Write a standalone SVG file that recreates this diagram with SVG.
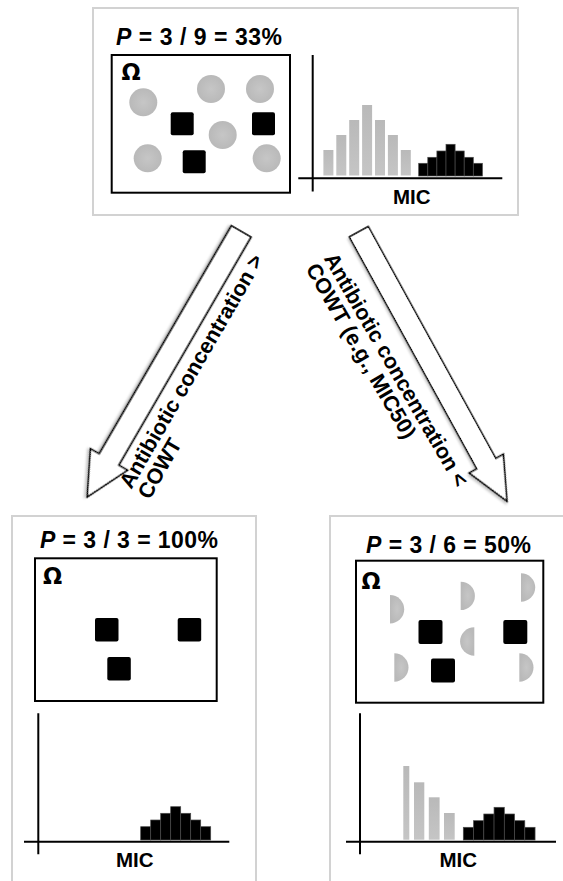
<svg xmlns="http://www.w3.org/2000/svg" width="563" height="881" viewBox="0 0 563 881">
  <style>
    text { font-family: "Liberation Sans", Arial, Helvetica, sans-serif; font-weight: bold; fill: #000; }
    .title { font-size: 23px; }
    .omega { font-family: "DejaVu Sans", "Liberation Sans", sans-serif; font-size: 22.5px; }
    .mic { font-size: 20.5px; text-anchor: middle; }
    .label { font-size: 21.5px; }
    .frame { fill: none; stroke: #d2d2d2; stroke-width: 2; }
    .box { fill: #fff; stroke: #000; stroke-width: 2; }
    .axis { stroke: #000; stroke-width: 2; fill: none; }
    .sq { fill: #000; }
    .blk { fill: #000; stroke: #4a4a4a; stroke-width: 0.7; }
    .gbar { fill: url(#barGrad); }
    .cell { fill: url(#cellGrad); }
    .arrow { fill: #fff; stroke: #000; stroke-width: 1.6; stroke-linejoin: miter; filter: url(#shadow); }
  </style>
  <defs>
    <radialGradient id="cellGrad" cx="0.5" cy="0.5" r="0.5">
      <stop offset="0" stop-color="#c6c6c6"/>
      <stop offset="1" stop-color="#b9b9b9"/>
    </radialGradient>
    <linearGradient id="barGrad" x1="0" y1="0" x2="0" y2="1">
      <stop offset="0" stop-color="#b9b9b9"/>
      <stop offset="1" stop-color="#c5c5c5"/>
    </linearGradient>
    <filter id="shadow" x="-20%" y="-20%" width="140%" height="140%">
      <feDropShadow dx="1.5" dy="2" stdDeviation="1.2" flood-color="#000" flood-opacity="0.22"/>
    </filter>
  </defs>
  <rect width="563" height="881" fill="#fff"/>

  <!-- Starting population -->
  <g id="panel-top">
    <rect class="frame" x="93" y="8" width="425" height="207"/>
    <text class="title" x="116" y="45" textLength="166" lengthAdjust="spacing"><tspan font-style="italic">P</tspan> = 3 / 9 = 33%</text>
    <rect class="box" x="111.7" y="55" width="178.3" height="137.7"/>
    <text class="omega" x="121.5" y="79.5">Ω</text>
    <circle class="cell" cx="143.3" cy="102.3" r="14"/>
    <circle class="cell" cx="211" cy="89" r="14"/>
    <circle class="cell" cx="260" cy="89" r="14"/>
    <circle class="cell" cx="222.7" cy="135" r="14"/>
    <circle class="cell" cx="147.7" cy="158.3" r="14"/>
    <circle class="cell" cx="266.7" cy="158.3" r="14"/>
    <rect class="sq" x="170.7" y="112.3" width="23" height="23" rx="2"/>
    <rect class="sq" x="252" y="112.3" width="23" height="23" rx="2"/>
    <rect class="sq" x="182.7" y="150.3" width="23" height="23" rx="2"/>
    <!-- MIC distribution -->
    <rect class="gbar" x="323.4" y="150" width="10" height="25.5"/>
    <rect class="gbar" x="336.3" y="135" width="10" height="40.5"/>
    <rect class="gbar" x="349.2" y="120" width="10" height="55.5"/>
    <rect class="gbar" x="362.1" y="105" width="10" height="70.5"/>
    <rect class="gbar" x="375" y="120" width="10" height="55.5"/>
    <rect class="gbar" x="387.9" y="135" width="10" height="40.5"/>
    <rect class="gbar" x="400.8" y="150" width="10" height="25.5"/>
    <rect class="blk" x="418.7" y="163.3" width="9.1" height="12.7"/>
    <rect class="blk" x="427.8" y="157.3" width="9.1" height="18.7"/>
    <rect class="blk" x="436.9" y="151" width="9.1" height="25"/>
    <rect class="blk" x="446" y="144.3" width="9.1" height="31.7"/>
    <rect class="blk" x="455.1" y="151" width="9.1" height="25"/>
    <rect class="blk" x="464.2" y="157.3" width="9.1" height="18.7"/>
    <rect class="blk" x="473.3" y="163.3" width="9.1" height="12.7"/>
    <path class="axis" d="M312.7,55 V191.5 M298.3,178.3 H502.3"/>
    <text class="mic" x="411.7" y="204">MIC</text>
  </g>

  <!-- Population above COWT -->
  <g id="panel-left">
    <rect class="frame" x="12" y="516" width="244" height="380"/>
    <text class="title" x="40" y="548.3" textLength="178" lengthAdjust="spacing"><tspan font-style="italic">P</tspan> = 3 / 3 = 100%</text>
    <rect class="box" x="35" y="558.3" width="181.7" height="142.7"/>
    <text class="omega" x="43" y="583.8">Ω</text>
    <rect class="sq" x="95" y="618" width="23.5" height="23.5" rx="2"/>
    <rect class="sq" x="177.7" y="618" width="23.5" height="23.5" rx="2"/>
    <rect class="sq" x="107.3" y="657" width="23.5" height="23.5" rx="2"/>
    <rect class="blk" x="140.7" y="826.7" width="10" height="13.3"/>
    <rect class="blk" x="150.7" y="820" width="10" height="20"/>
    <rect class="blk" x="160.7" y="813.3" width="10" height="26.7"/>
    <rect class="blk" x="170.7" y="806.7" width="10" height="33.3"/>
    <rect class="blk" x="180.7" y="813.3" width="10" height="26.7"/>
    <rect class="blk" x="190.7" y="820" width="10" height="20"/>
    <rect class="blk" x="200.7" y="826.7" width="10" height="13.3"/>
    <path class="axis" d="M38.3,713.3 V854.3 M24,841.7 H229.3"/>
    <text class="mic" x="134.8" y="866.7">MIC</text>
  </g>

  <!-- Population below COWT -->
  <g id="panel-right">
    <rect class="frame" x="330" y="516" width="250" height="380"/>
    <text class="title" x="366" y="553.3" textLength="165" lengthAdjust="spacing"><tspan font-style="italic">P</tspan> = 3 / 6 = 50%</text>
    <rect class="box" x="356" y="560.7" width="187.3" height="142"/>
    <text class="omega" x="361.5" y="588.8">Ω</text>
    <!-- damaged wild-type cells -->
    <path class="cell" d="M390,595 A14.2,14.2 0 0 1 390,623.4 Z"/>
    <path class="cell" d="M460.7,581.7 A14.2,14.2 0 0 1 460.7,610.1 Z"/>
    <path class="cell" d="M521,573.3 A14.2,14.2 0 0 1 521,601.7 Z"/>
    <path class="cell" d="M474.3,627.3 A14.2,14.2 0 0 0 474.3,655.7 Z"/>
    <path class="cell" d="M394.3,653.3 A14.2,14.2 0 0 1 394.3,681.7 Z"/>
    <path class="cell" d="M519.3,653.3 A14.2,14.2 0 0 1 519.3,681.7 Z"/>
    <rect class="sq" x="418.5" y="620" width="24" height="24" rx="2"/>
    <rect class="sq" x="503.3" y="620" width="24" height="24" rx="2"/>
    <rect class="sq" x="431" y="658.5" width="24" height="24" rx="2"/>
    <rect class="gbar" x="403.3" y="766" width="6" height="73.7"/>
    <rect class="gbar" x="414" y="782.3" width="10.3" height="57.4"/>
    <rect class="gbar" x="428.8" y="797.3" width="10.8" height="42.4"/>
    <rect class="gbar" x="444" y="813" width="10.7" height="26.7"/>
    <rect class="blk" x="463.3" y="827.3" width="10.25" height="12.7"/>
    <rect class="blk" x="473.55" y="820.7" width="10.25" height="19.3"/>
    <rect class="blk" x="483.8" y="814" width="10.25" height="26"/>
    <rect class="blk" x="494.05" y="807.3" width="10.25" height="32.7"/>
    <rect class="blk" x="504.3" y="814" width="10.25" height="26"/>
    <rect class="blk" x="514.55" y="820.7" width="10.25" height="19.3"/>
    <rect class="blk" x="524.8" y="827.3" width="10.25" height="12.7"/>
    <path class="axis" d="M360,713.3 V854.3 M346,841.7 H556"/>
    <text class="mic" x="458.2" y="866.7">MIC</text>
  </g>

  <!-- Block arrows and their labels -->
  <g id="connectors">
    <g id="arrow-above">
      <polygon class="arrow" transform="translate(241.2,231.4) rotate(120.1)"
        points="0,-11.4 263.6,-11.4 263.6,-21.5 307,0 263.6,21.5 263.6,11.4 0,11.4"/>
      <text class="label" transform="translate(131.2,489.9) rotate(-60)">
        <tspan x="0" y="0">Antibiotic concentration &gt;</tspan>
        <tspan x="0" y="21">COWT</tspan>
      </text>
    </g>
    <g id="arrow-below">
      <polygon class="arrow" transform="translate(358.8,231.7) rotate(61.2)"
        points="0,-10.7 264.6,-10.7 264.6,-19.5 307.6,0 264.6,19.5 264.6,10.7 0,10.7"/>
      <text class="label" transform="translate(323.4,258.3) rotate(60)">
        <tspan x="0" y="0">Antibiotic concentration &lt;</tspan>
        <tspan x="0" y="21">COWT (e.g., MIC50)</tspan>
      </text>
    </g>
  </g>
</svg>
